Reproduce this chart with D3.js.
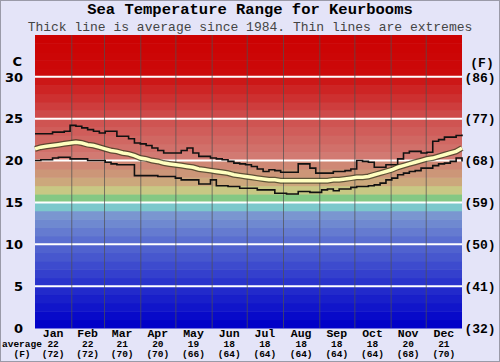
<!DOCTYPE html>
<html>
<head>
<meta charset="utf-8">
<script src="https://cdn.jsdelivr.net/npm/d3@7"></script>
<style>
  body { margin: 0; background: #e4e4f8; }
</style>
</head>
<body>
<div id="chart"></div>
<script>
// sample days (every 5 days through the year)
var sampleDays = d3.range(0, 366, 5);

// highest recorded, average, lowest recorded (deg C)
var upperC = [23.2,23.2,23.2,23.4,23.4,23.5,24.2,24.1,23.9,23.7,
	23.5,23.3,23.5,23.5,22.9,22.9,22.6,22.1,22.0,21.8,
	21.5,21.2,20.9,20.9,20.9,21.2,21.5,20.9,20.5,20.5,
	20.3,20.2,20.1,19.9,19.7,19.6,19.5,19.3,19.0,18.7,
	18.9,18.8,18.6,18.6,18.6,19.6,19.6,19.1,18.5,18.5,
	18.5,18.7,18.7,18.8,19.0,20.0,19.9,19.8,19.2,19.2,
	19.5,19.5,20.2,20.9,21.1,21.1,20.9,21.0,22.3,22.5,
	22.8,22.8,23.0,23.1];
var averageC = [21.4,21.6,21.7,21.8,21.9,22.0,22.1,22.2,22.1,21.9,
	21.8,21.6,21.4,21.2,21.1,20.9,20.8,20.6,20.3,20.2,
	20.0,19.9,19.7,19.6,19.5,19.4,19.3,19.2,19.0,18.9,
	18.8,18.7,18.6,18.5,18.3,18.2,18.1,18.0,17.9,17.8,
	17.7,17.7,17.6,17.6,17.6,17.6,17.6,17.6,17.6,17.6,
	17.6,17.7,17.7,17.8,17.9,18.0,18.0,18.1,18.3,18.5,
	18.7,18.9,19.2,19.4,19.6,19.8,20.0,20.2,20.3,20.5,
	20.7,20.9,21.1,21.5];
var lowerC = [20.0,20.1,20.1,20.3,20.4,20.4,20.2,20.2,20.2,20.0,
	20.0,20.0,19.8,19.6,19.5,19.5,19.5,18.2,18.2,18.2,
	18.2,18.1,18.1,18.1,17.9,17.7,17.7,17.7,17.2,17.2,
	17.7,17.0,17.0,16.9,16.9,16.7,16.7,16.7,16.5,16.5,
	16.5,16.1,16.1,16.0,16.0,16.3,16.3,16.2,16.2,16.5,
	16.6,16.4,16.6,16.6,16.8,16.9,16.9,17.0,17.1,17.3,
	17.7,17.9,18.3,18.5,18.7,18.8,19.1,19.1,19.4,19.6,
	19.7,19.9,20.3,19.9];

// months and monthly average labels
var months = ["Jan","Feb","Mar","Apr","May","Jun","Jul","Aug","Sep","Oct","Nov","Dec"];
var monthDays = [31,28,31,30,31,30,31,31,30,31,30,31];
var monthAvgC = [22,22,21,20,19,18,18,18,18,18,20,21];
var monthAvgF = [72,72,70,70,66,64,64,64,64,64,68,70];

// axis ticks
var ticksC = [0,5,10,15,20,25,30];
var ticksF = ["(32)","(41)","(50)","(59)","(68)","(77)","(86)"];

drawchart()

function drawchart() {
	var W = 500, H = 362;
	var plot = {left: 35, right: 462, top: 35, bottom: 328};

	var svg = d3.select("#chart")
		.append("svg")
		.attr("width", W)
		.attr("height", H);

	svg.append("rect")
		.attr("x", 0.5).attr("y", 0.5)
		.attr("width", W - 1).attr("height", H - 1)
		.style("fill", "#e4e4f8")
		.style("stroke", "#9a9aa8");

	var x = d3.scaleLinear().domain([0, 365]).range([plot.left, plot.right]);
	var y = d3.scaleLinear().domain([0, 35]).range([plot.bottom, plot.top]);

	// colour of the 1 degree bands
	var bandColor = d3.scaleLinear()
		.domain([0, 5, 10, 13, 14, 15, 16, 17, 18, 20, 25, 30, 35])
		.range(["#0000c8", "#2a34cc", "#5a6ed0", "#7a96d0", "#7cc8cc", "#84c884",
			"#c8c884", "#cca87c", "#cc9678", "#d27a72", "#ce4a4a", "#cc0a0a", "#cc0000"])
		.clamp(true);

	var bands = d3.range(0, 35);
	svg.append("g").selectAll("rect")
		.data(bands)
		.join("rect")
		.attr("x", plot.left)
		.attr("width", plot.right - plot.left)
		.attr("y", d => y(d + 1))
		.attr("height", d => y(d) - y(d + 1) + 0.5)
		.style("fill", d => bandColor(d));

	// white lines every 5 degrees
	svg.append("g").selectAll("line")
		.data(ticksC.filter(d => d > 0))
		.join("line")
		.attr("x1", plot.left).attr("x2", plot.right)
		.attr("y1", d => y(d)).attr("y2", d => y(d))
		.style("stroke", "#ffffff")
		.style("stroke-width", 2);

	// month boundaries
	var starts = [0];
	monthDays.forEach(function(d, i) { starts.push(starts[i] + d); });
	svg.append("g").selectAll("line")
		.data(starts.slice(1, 12))
		.join("line")
		.attr("x1", d => x(d) + 0.5).attr("x2", d => x(d) + 0.5)
		.attr("y1", plot.top).attr("y2", plot.bottom)
		.style("stroke", "#505050")
		.style("stroke-opacity", 0.7)
		.style("stroke-width", 1);

	var pts = function(arr) {
		return sampleDays.map((d, i) => [d, arr[i]]);
	};
	var stepLine = d3.line()
		.x(d => x(d[0])).y(d => y(d[1]))
		.curve(d3.curveStepAfter);
	var smoothLine = d3.line()
		.x(d => x(d[0])).y(d => y(d[1]));

	// extremes
	[upperC, lowerC].forEach(function(arr) {
		svg.append("path")
			.attr("d", stepLine(pts(arr)))
			.style("fill", "none")
			.style("stroke", "#111")
			.style("stroke-width", 1.6);
	});

	// average: dark outline with pale yellow core
	svg.append("path")
		.attr("d", smoothLine(pts(averageC)))
		.style("fill", "none")
		.style("stroke", "#3a3a20")
		.style("stroke-opacity", 0.75)
		.style("stroke-width", 6);
	svg.append("path")
		.attr("d", smoothLine(pts(averageC)))
		.style("fill", "none")
		.style("stroke", "#ffffc0")
		.style("stroke-width", 3.5);

	// titles
	svg.append("text")
		.attr("x", W / 2).attr("y", 14)
		.attr("text-anchor", "middle")
		.style("font-family", "Liberation Mono")
		.style("font-weight", "bold")
		.style("font-size", "15.5px")
		.text("Sea Temperature Range for Keurbooms");
	svg.append("text")
		.attr("x", W / 2).attr("y", 31)
		.attr("text-anchor", "middle")
		.style("font-family", "Liberation Mono")
		.style("font-size", "13px")
		.style("fill", "#444")
		.text("Thick line is average since 1984. Thin lines are extremes");

	// left axis (C)
	var left = svg.append("g")
		.style("font-family", "DejaVu Sans")
		.style("font-weight", "bold")
		.style("font-size", "13px");
	left.selectAll("text")
		.data(ticksC)
		.join("text")
		.attr("x", 23)
		.attr("y", d => y(d))
		.attr("dy", "0.36em")
		.attr("text-anchor", "end")
		.text(d => d);
	left.append("text")
		.attr("x", 22).attr("y", 61).attr("dy", "0.36em")
		.attr("text-anchor", "end")
		.text("C");

	// right axis (F)
	var right = svg.append("g")
		.style("font-family", "Liberation Mono")
		.style("font-weight", "bold")
		.style("font-size", "13px");
	right.selectAll("text")
		.data(ticksF)
		.join("text")
		.attr("x", 480)
		.attr("y", (d, i) => y(ticksC[i]))
		.attr("dy", "0.36em")
		.attr("text-anchor", "middle")
		.text(d => d);
	right.append("text")
		.attr("x", 482).attr("y", 62).attr("dy", "0.36em")
		.attr("text-anchor", "middle")
		.text("(F)");

	// month labels with monthly averages
	var bottom = svg.append("g")
		.style("font-family", "Liberation Mono")
		.style("font-weight", "bold");
	months.forEach(function(m, i) {
		var cx = x(starts[i] + monthDays[i] / 2);
		bottom.append("text")
			.attr("x", cx).attr("y", 337)
			.attr("text-anchor", "middle")
			.style("font-size", "11.5px")
			.text(m);
		bottom.append("text")
			.attr("x", cx).attr("y", 347)
			.attr("text-anchor", "middle")
			.style("font-size", "9.5px")
			.text(monthAvgC[i]);
		bottom.append("text")
			.attr("x", cx).attr("y", 357)
			.attr("text-anchor", "middle")
			.style("font-size", "9.5px")
			.text("(" + monthAvgF[i] + ")");
	});
	bottom.append("text")
		.attr("x", 2).attr("y", 347)
		.style("font-size", "9.5px")
		.text("average");
	bottom.append("text")
		.attr("x", 22).attr("y", 357)
		.attr("text-anchor", "middle")
		.style("font-size", "9.5px")
		.text("(F)");
}
</script>
</body>
</html>
